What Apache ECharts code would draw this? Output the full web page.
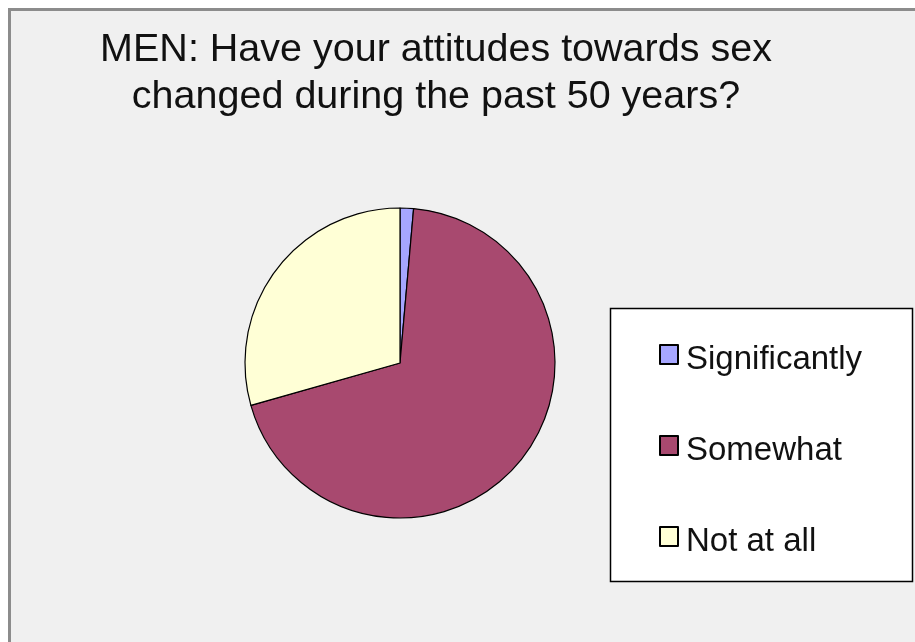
<!DOCTYPE html>
<html>
<head>
<meta charset="utf-8">
<script src="https://cdn.jsdelivr.net/npm/echarts@6/dist/echarts.min.js"></script>
<style>
html,body{margin:0;padding:0;background:#ffffff;}
#chart{width:915px;height:642px;}
</style>
</head>
<body>
<div id="chart"></div>
<script>
var titleLines = ['MEN: Have your attitudes towards sex', 'changed during the past 50 years?'];
var categories = ['Significantly', 'Somewhat', 'Not at all'];
var values = [1.4, 69.2, 29.4];
var colors = ['#a6a6ff', '#a8496f', '#ffffd6'];

var chart = echarts.init(document.getElementById('chart'), null, {renderer: 'canvas'});
var FONT = '"Liberation Sans", Arial, sans-serif';

chart.setOption({
  backgroundColor: '#ffffff',
  animation: false,
  graphic: [
    {
      type: 'rect', z: 0, silent: true,
      shape: {x: 9.5, y: 9.5, width: 1000, height: 1000},
      style: {fill: '#f0f0f0', stroke: '#8c8c8c', lineWidth: 3}
    },
    {
      type: 'rect', z: 1, silent: true,
      shape: {x: 610.5, y: 308.5, width: 302, height: 273},
      style: {fill: '#ffffff', stroke: '#000000', lineWidth: 1.5}
    },
    {
      type: 'text', z: 2, silent: true,
      x: 436, y: 27,
      style: {
        text: titleLines.join('\n'),
        font: '39.5px ' + FONT,
        lineHeight: 47,
        fill: '#111111',
        textAlign: 'center',
        textVerticalAlign: 'top'
      }
    }
  ],
  legend: {
    orient: 'vertical',
    left: 654,
    top: 328,
    itemWidth: 18,
    itemHeight: 19,
    itemGap: 48,
    icon: 'rect',
    z: 5,
    formatter: '{n|{name}}',
    textStyle: {
      fontFamily: FONT, fontSize: 33, color: '#111111',
      rich: {
        n: {fontFamily: FONT, fontSize: 33, color: '#111111', lineHeight: 34, padding: [10, 0, 0, 3]}
      }
    },
    data: categories
  },
  series: [{
    type: 'pie',
    center: [400, 363],
    radius: 155,
    startAngle: 90,
    clockwise: true,
    label: {show: false},
    labelLine: {show: false},
    emphasis: {disabled: true},
    itemStyle: {borderColor: '#000000', borderWidth: 1.2},
    data: categories.map(function (c, i) {
      return {name: c, value: values[i], itemStyle: {color: colors[i]}};
    })
  }]
});
</script>
</body>
</html>
